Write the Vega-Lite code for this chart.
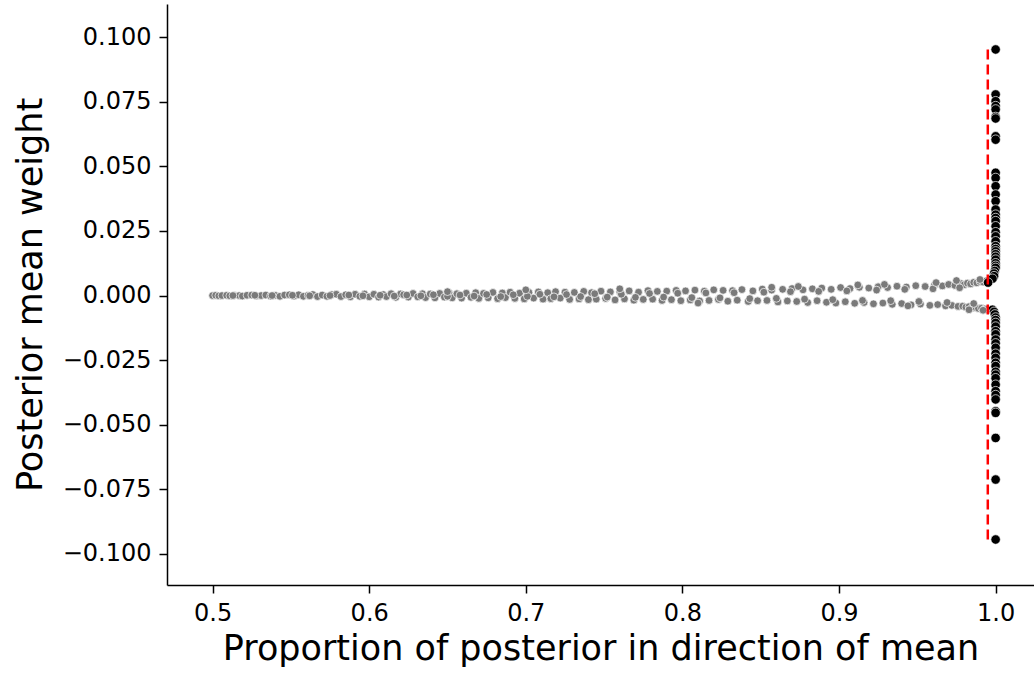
{
  "$schema": "https://vega.github.io/schema/vega-lite/v6.json",
  "autosize": {"type": "none"},
  "width": 867,
  "height": 581,
  "padding": {"left": 167, "top": 4, "right": 0, "bottom": 94},
  "background": "white",
  "config": {
    "view": {"stroke": null},
    "font": "DejaVu Sans",
    "axis": {
      "grid": false,
      "domainColor": "#000000",
      "domainWidth": 1.5,
      "tickColor": "#000000",
      "tickWidth": 1.5,
      "tickSize": 8,
      "labelColor": "#000000",
      "labelFont": "DejaVu Sans",
      "labelFontSize": 24,
      "labelPadding": 8,
      "titleColor": "#000000",
      "titleFont": "DejaVu Sans",
      "titleFontSize": 35,
      "titleFontWeight": "normal"
    }
  },
  "datasets": {
    "inside": [
      {"p":0.500,"w":0.0000},{"p":0.502,"w":0.0001},{"p":0.504,"w":-0.0001},{"p":0.506,"w":0.0000},{"p":0.509,"w":0.0001},
      {"p":0.511,"w":-0.0001},{"p":0.514,"w":0.0001},{"p":0.517,"w":0.0000},{"p":0.519,"w":-0.0002},{"p":0.522,"w":0.0001},
      {"p":0.525,"w":0.0002},{"p":0.528,"w":-0.0001},{"p":0.531,"w":0.0000},{"p":0.534,"w":0.0002},{"p":0.537,"w":-0.0002},
      {"p":0.540,"w":0.0001},{"p":0.543,"w":-0.0003},{"p":0.546,"w":0.0002},{"p":0.549,"w":0.0003},{"p":0.552,"w":-0.0002},
      {"p":0.555,"w":0.0003},{"p":0.558,"w":-0.0003},{"p":0.561,"w":0.0001},{"p":0.564,"w":0.0004},{"p":0.567,"w":-0.0004},
      {"p":0.570,"w":0.0002},{"p":0.573,"w":-0.0003},{"p":0.576,"w":0.0004},{"p":0.579,"w":0.0005},{"p":0.582,"w":-0.0004},
      {"p":0.585,"w":0.0003},{"p":0.588,"w":-0.0005},{"p":0.591,"w":0.0005},{"p":0.594,"w":-0.0003},{"p":0.597,"w":0.0006},
      {"p":0.600,"w":-0.0005},
      {"p":0.603,"w":0.0005},{"p":0.606,"w":-0.0006},{"p":0.609,"w":0.0004},{"p":0.611,"w":-0.0004},{"p":0.614,"w":0.0007},
      {"p":0.617,"w":-0.0007},{"p":0.620,"w":0.0006},{"p":0.622,"w":0.0003},{"p":0.625,"w":-0.0006},{"p":0.628,"w":0.0008},
      {"p":0.631,"w":-0.0005},{"p":0.634,"w":0.0007},{"p":0.636,"w":-0.0008},{"p":0.639,"w":0.0006},{"p":0.642,"w":-0.0009},
      {"p":0.645,"w":0.0008},{"p":0.648,"w":-0.0006},{"p":0.651,"w":0.0010},{"p":0.653,"w":-0.0009},{"p":0.656,"w":0.0007},
      {"p":0.659,"w":-0.0010},{"p":0.662,"w":0.0009},{"p":0.665,"w":-0.0007},{"p":0.668,"w":0.0011},{"p":0.670,"w":-0.0011},
      {"p":0.673,"w":0.0008},{"p":0.676,"w":-0.0009},{"p":0.679,"w":0.0012},{"p":0.682,"w":-0.0012},{"p":0.685,"w":0.0010},
      {"p":0.687,"w":-0.0008},{"p":0.690,"w":0.0013},{"p":0.693,"w":-0.0011},{"p":0.696,"w":0.0009},{"p":0.699,"w":-0.0013},
      {"p":0.702,"w":0.0012},{"p":0.705,"w":-0.0010},{"p":0.708,"w":0.0014},{"p":0.711,"w":-0.0014},{"p":0.714,"w":0.0011},
      {"p":0.716,"w":-0.0012},{"p":0.719,"w":0.0015},{"p":0.722,"w":-0.0010},{"p":0.725,"w":0.0013},{"p":0.728,"w":-0.0015},
      {"p":0.731,"w":0.0012},{"p":0.734,"w":-0.0013},{"p":0.737,"w":0.0016},{"p":0.740,"w":-0.0016},{"p":0.742,"w":0.0011},
      {"p":0.745,"w":-0.0014},{"p":0.748,"w":0.0017},{"p":0.751,"w":-0.0011},{"p":0.754,"w":0.0014},{"p":0.757,"w":-0.0017},
      {"p":0.760,"w":0.0015},{"p":0.763,"w":-0.0013},{"p":0.766,"w":0.0018},{"p":0.769,"w":-0.0018},{"p":0.772,"w":0.0013},
      {"p":0.775,"w":-0.0015},{"p":0.778,"w":0.0019},{"p":0.781,"w":-0.0014},{"p":0.784,"w":0.0016},{"p":0.787,"w":-0.0019},
      {"p":0.790,"w":0.0017},{"p":0.793,"w":-0.0016},{"p":0.796,"w":0.0020},{"p":0.799,"w":-0.0020},
      {"p":0.802,"w":0.0018},{"p":0.805,"w":-0.0017},{"p":0.808,"w":0.0021},{"p":0.811,"w":-0.0021},{"p":0.814,"w":0.0017},
      {"p":0.817,"w":-0.0019},{"p":0.820,"w":0.0022},{"p":0.823,"w":-0.0015},{"p":0.826,"w":0.0020},{"p":0.829,"w":-0.0022},
      {"p":0.832,"w":0.0019},{"p":0.835,"w":-0.0018},{"p":0.838,"w":0.0023},{"p":0.842,"w":-0.0023},{"p":0.845,"w":0.0018},
      {"p":0.848,"w":-0.0020},{"p":0.851,"w":0.0025},{"p":0.854,"w":-0.0019},{"p":0.857,"w":0.0021},{"p":0.861,"w":-0.0025},
      {"p":0.864,"w":0.0024},{"p":0.867,"w":-0.0021},{"p":0.870,"w":0.0027},{"p":0.873,"w":-0.0023},{"p":0.877,"w":0.0022},
      {"p":0.880,"w":-0.0027},{"p":0.883,"w":0.0026},{"p":0.886,"w":-0.0020},{"p":0.889,"w":0.0029},{"p":0.892,"w":-0.0026},
      {"p":0.895,"w":0.0024},{"p":0.898,"w":-0.0029},
      {"p":0.901,"w":0.0031},{"p":0.904,"w":-0.0024},{"p":0.907,"w":0.0027},{"p":0.910,"w":-0.0030},{"p":0.913,"w":0.0032},
      {"p":0.916,"w":-0.0027},{"p":0.919,"w":0.0029},{"p":0.922,"w":-0.0032},{"p":0.925,"w":0.0034},{"p":0.928,"w":-0.0029},
      {"p":0.931,"w":0.0031},{"p":0.934,"w":-0.0034},{"p":0.937,"w":0.0036},{"p":0.940,"w":-0.0031},{"p":0.943,"w":0.0033},
      {"p":0.946,"w":-0.0036},{"p":0.949,"w":0.0038},{"p":0.952,"w":-0.0033},{"p":0.955,"w":0.0035},{"p":0.958,"w":-0.0038},
      {"p":0.961,"w":0.0041},{"p":0.963,"w":-0.0035},{"p":0.966,"w":0.0037},{"p":0.968,"w":-0.0040},{"p":0.970,"w":0.0043},
      {"p":0.972,"w":-0.0038},{"p":0.974,"w":0.0039},{"p":0.976,"w":-0.0042},{"p":0.978,"w":0.0046},{"p":0.979,"w":-0.0041},
      {"p":0.980,"w":0.0042},{"p":0.981,"w":-0.0045},{"p":0.982,"w":0.0048},{"p":0.983,"w":-0.0043},{"p":0.984,"w":0.0045},
      {"p":0.985,"w":-0.0047},{"p":0.986,"w":0.0051},{"p":0.987,"w":-0.0046},{"p":0.988,"w":0.0049},{"p":0.989,"w":-0.0050},
      {"p":0.990,"w":0.0054},{"p":0.991,"w":-0.0049},{"p":0.992,"w":0.0052},{"p":0.993,"w":-0.0052},{"p":0.994,"w":0.0057},
      {"p":0.994,"w":-0.0054},
      {"p":0.513,"w":0.0000},{"p":0.527,"w":0.0001},{"p":0.538,"w":0.0000},{"p":0.551,"w":0.0001},{"p":0.562,"w":-0.0001},
      {"p":0.575,"w":0.0000},{"p":0.587,"w":0.0002},{"p":0.596,"w":-0.0001},{"p":0.607,"w":0.0001},{"p":0.616,"w":-0.0002},
      {"p":0.624,"w":0.0002},{"p":0.633,"w":-0.0001},{"p":0.641,"w":0.0003},{"p":0.650,"w":-0.0003},{"p":0.658,"w":0.0002},
      {"p":0.667,"w":-0.0002},{"p":0.675,"w":0.0004},{"p":0.684,"w":-0.0004},{"p":0.692,"w":0.0003},{"p":0.701,"w":-0.0003},
      {"p":0.709,"w":0.0005},{"p":0.718,"w":-0.0005},{"p":0.726,"w":0.0004},{"p":0.735,"w":-0.0004},{"p":0.744,"w":0.0007},
      {"p":0.752,"w":-0.0006},{"p":0.761,"w":0.0005},{"p":0.770,"w":-0.0007},{"p":0.779,"w":0.0008},{"p":0.788,"w":-0.0006},
      {"p":0.797,"w":0.0009},{"p":0.806,"w":-0.0008},{"p":0.815,"w":0.0010},{"p":0.824,"w":-0.0009},{"p":0.833,"w":0.0011},
      {"p":0.843,"w":-0.0012},{"p":0.852,"w":0.0013},{"p":0.860,"w":-0.0011},{"p":0.869,"w":0.0015},{"p":0.878,"w":-0.0014},
      {"p":0.887,"w":0.0016},{"p":0.896,"w":-0.0016},{"p":0.905,"w":0.0018},{"p":0.915,"w":-0.0019},{"p":0.924,"w":0.0021},
      {"p":0.933,"w":-0.0020},{"p":0.942,"w":0.0024},{"p":0.951,"w":-0.0023},{"p":0.960,"w":0.0026},{"p":0.969,"w":-0.0027},
      {"p":0.977,"w":0.0030},{"p":0.986,"w":-0.0031},
      {"p":0.650,"w":0.0015},{"p":0.700,"w":0.0022},{"p":0.760,"w":0.0026},{"p":0.810,"w":-0.0029},{"p":0.857,"w":0.0032},
      {"p":0.874,"w":0.0035},{"p":0.912,"w":0.0041},{"p":0.929,"w":0.0043},{"p":0.944,"w":-0.0040},{"p":0.962,"w":0.0050},
      {"p":0.975,"w":0.0058},{"p":0.983,"w":-0.0055},{"p":0.990,"w":0.0062},{"p":0.992,"w":-0.0057}
    ],
    "outside": [
      {"p":1.000,"w":0.0952},{"p":1.000,"w":0.0778},{"p":1.000,"w":0.0752},{"p":1.000,"w":0.0733},{"p":1.000,"w":0.0720},
      {"p":1.000,"w":0.0691},{"p":1.000,"w":0.0685},{"p":1.000,"w":0.0616},{"p":1.000,"w":0.0603},{"p":1.000,"w":0.0475},
      {"p":1.000,"w":0.0455},{"p":1.000,"w":0.0423},{"p":1.000,"w":0.0391},{"p":1.000,"w":0.0365},{"p":1.000,"w":0.0333},
      {"p":1.000,"w":0.0313},{"p":1.000,"w":0.0300},{"p":1.000,"w":0.0288},{"p":1.000,"w":0.0268},{"p":1.000,"w":0.0245},
      {"p":1.000,"w":0.0229},{"p":1.000,"w":0.0210},{"p":1.000,"w":0.0191},{"p":1.000,"w":0.0180},{"p":1.000,"w":0.0171},
      {"p":1.000,"w":0.0160},{"p":1.000,"w":0.0150},{"p":1.000,"w":0.0139},{"p":1.000,"w":0.0125},{"p":1.000,"w":0.0115},
      {"p":1.000,"w":0.0107},{"p":0.9995,"w":0.0095},{"p":0.999,"w":0.0085},{"p":0.999,"w":0.0075},{"p":0.998,"w":0.0065},
      {"p":0.9952,"w":0.0050},{"p":0.998,"w":-0.0055},{"p":0.999,"w":-0.0063},{"p":0.9995,"w":-0.0073},{"p":1.000,"w":-0.0085},
      {"p":1.000,"w":-0.0095},{"p":1.000,"w":-0.0106},{"p":1.000,"w":-0.0120},{"p":1.000,"w":-0.0138},{"p":1.000,"w":-0.0150},
      {"p":1.000,"w":-0.0170},{"p":1.000,"w":-0.0185},{"p":1.000,"w":-0.0202},{"p":1.000,"w":-0.0225},{"p":1.000,"w":-0.0241},
      {"p":1.000,"w":-0.0260},{"p":1.000,"w":-0.0273},{"p":1.000,"w":-0.0295},{"p":1.000,"w":-0.0306},{"p":1.000,"w":-0.0320},
      {"p":1.000,"w":-0.0345},{"p":1.000,"w":-0.0370},{"p":1.000,"w":-0.0385},{"p":1.000,"w":-0.0402},{"p":1.000,"w":-0.0448},
      {"p":1.000,"w":-0.0454},{"p":1.000,"w":-0.0551},{"p":1.000,"w":-0.0712},{"p":1.000,"w":-0.0944}
    ],
    "cutoff": [
      {"p":0.995,"lo":-0.0944,"hi":0.0952}
    ]
  },
  "encoding": {
    "x": {
      "field": "p",
      "type": "quantitative",
      "scale": {"domain": [0.4709, 1.0245], "nice": false, "zero": false},
      "axis": {"values": [0.5, 0.6, 0.7, 0.8, 0.9, 1.0], "format": ".1f", "title": "Proportion of posterior in direction of mean", "titlePadding": 6}
    }
  },
  "layer": [
    {
      "data": {"name": "inside"},
      "mark": {"type": "point", "shape": "circle", "filled": true, "size": 60, "color": "#7a7a7a", "stroke": "#ffffff", "strokeWidth": 0.7, "opacity": 1},
      "encoding": {
        "y": {
          "field": "w",
          "type": "quantitative",
          "scale": {"domain": [-0.112, 0.1128], "nice": false, "zero": false},
          "axis": {"values": [-0.1, -0.075, -0.05, -0.025, 0, 0.025, 0.05, 0.075, 0.1], "format": ".3f", "title": "Posterior mean weight", "titlePadding": 14}
        }
      }
    },
    {
      "data": {"name": "outside"},
      "mark": {"type": "point", "shape": "circle", "filled": true, "size": 90, "color": "#000000", "stroke": "#ffffff", "strokeWidth": 0.7, "opacity": 1},
      "encoding": {
        "y": {"field": "w", "type": "quantitative"}
      }
    },
    {
      "data": {"name": "cutoff"},
      "mark": {"type": "rule", "color": "#ff0000", "strokeWidth": 2.5, "strokeDash": [10, 5]},
      "encoding": {
        "y": {"field": "lo", "type": "quantitative"},
        "y2": {"field": "hi"}
      }
    }
  ]
}
